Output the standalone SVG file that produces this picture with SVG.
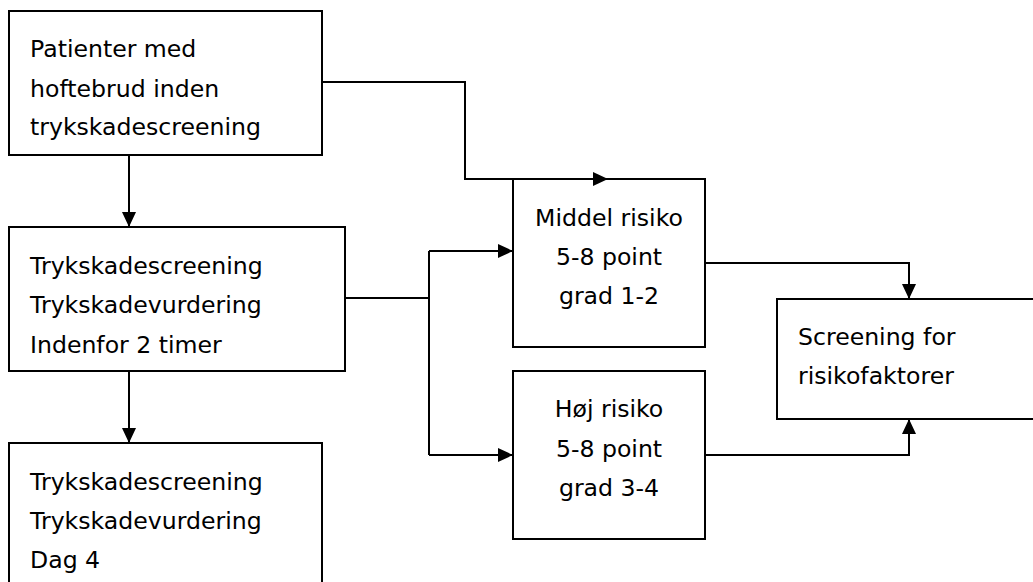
<svg xmlns="http://www.w3.org/2000/svg" width="1033" height="582" viewBox="0 0 1033 582">
<style>
.box{fill:#fff;stroke:#000;stroke-width:2}
.t{font-family:"DejaVu Sans","Verdana",sans-serif;font-size:23.6px;fill:#000}
.c{text-anchor:middle}
.ln{fill:none;stroke:#000;stroke-width:2}
</style>
<defs>
<marker id="ah" viewBox="0 0 15 14" refX="15" refY="7" markerWidth="15" markerHeight="14" markerUnits="userSpaceOnUse" orient="auto">
<path d="M0,0 L15,7 L0,14 z" fill="#000"/>
</marker>
</defs>
<rect width="1033" height="582" fill="#fff"/>
<g id="n1">
<rect class="box" x="9" y="11" width="313" height="144"/>
<text class="t" x="30" y="57.3">Patienter med</text>
<text class="t" x="30" y="96.7">hoftebrud inden</text>
<text class="t" x="30" y="135">trykskadescreening</text>
</g>
<g id="n2">
<rect class="box" x="9" y="227" width="336" height="144"/>
<text class="t" x="30" y="274">Trykskadescreening</text>
<text class="t" x="30" y="313.3">Trykskadevurdering</text>
<text class="t" x="30" y="352.7">Indenfor 2 timer</text>
</g>
<g id="n3">
<rect class="box" x="9" y="443" width="313" height="160"/>
<text class="t" x="30" y="490">Trykskadescreening</text>
<text class="t" x="30" y="529.3">Trykskadevurdering</text>
<text class="t" x="30" y="568.3">Dag 4</text>
</g>
<g id="n4">
<rect class="box" x="513" y="179" width="192" height="168"/>
<text class="t c" x="609" y="225.5">Middel risiko</text>
<text class="t c" x="609" y="264.8">5-8 point</text>
<text class="t c" x="609" y="304">grad 1-2</text>
</g>
<g id="n5">
<rect class="box" x="513" y="371" width="192" height="168"/>
<text class="t c" x="609" y="417.3">Høj risiko</text>
<text class="t c" x="609" y="457">5-8 point</text>
<text class="t c" x="609" y="496">grad 3-4</text>
</g>
<g id="n6">
<rect class="box" x="777" y="299" width="280" height="120"/>
<text class="t" x="798" y="345.3">Screening for</text>
<text class="t" x="798" y="384">risikofaktorer</text>
</g>
<g id="connectors">
<path class="ln" d="M129,155 V227" marker-end="url(#ah)"/>
<path class="ln" d="M129,371 V443" marker-end="url(#ah)"/>
<path class="ln" d="M322,82 H465 V179 H608" marker-end="url(#ah)"/>
<path class="ln" d="M345,298 H429"/>
<path class="ln" d="M429,251 V455"/>
<path class="ln" d="M429,251 H513" marker-end="url(#ah)"/>
<path class="ln" d="M429,455 H513" marker-end="url(#ah)"/>
<path class="ln" d="M705,263 H909 V299" marker-end="url(#ah)"/>
<path class="ln" d="M705,455 H909 V419" marker-end="url(#ah)"/>
</g>
</svg>
